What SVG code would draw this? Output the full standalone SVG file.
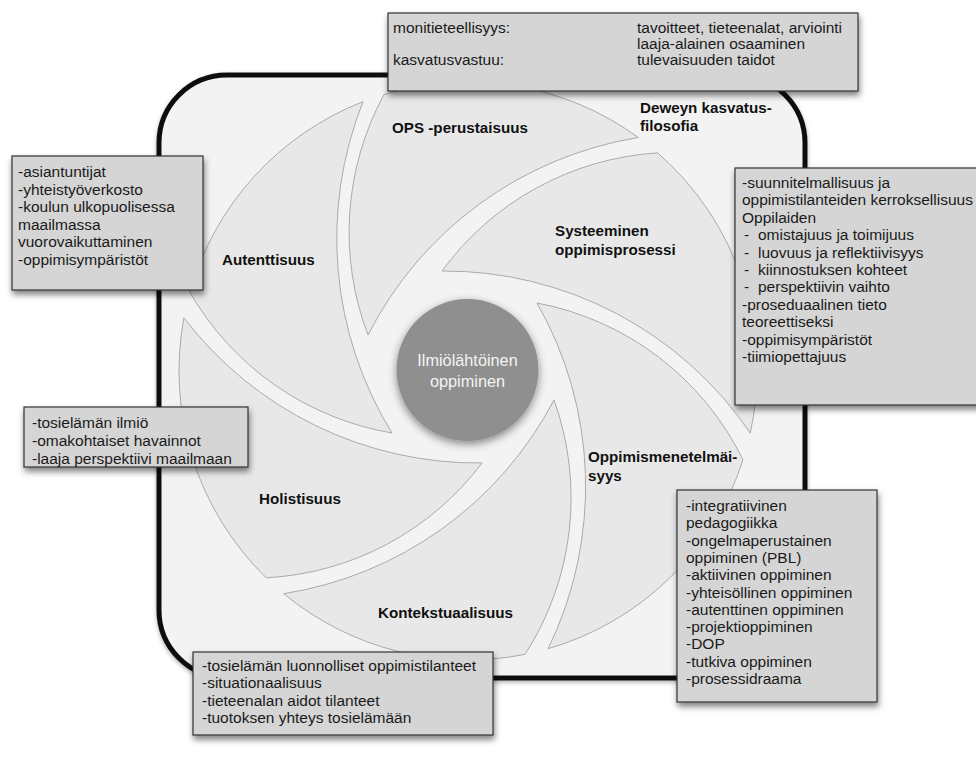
<svg xmlns="http://www.w3.org/2000/svg" width="976" height="759" viewBox="0 0 976 759">
<defs>
<filter id="sh" x="-10%" y="-10%" width="130%" height="140%"><feDropShadow dx="1" dy="4" stdDeviation="3" flood-color="#000" flood-opacity="0.5"/></filter>
<filter id="csh" x="-30%" y="-30%" width="160%" height="160%"><feDropShadow dx="0" dy="3" stdDeviation="4" flood-color="#000" flood-opacity="0.45"/></filter>
<filter id="fsh" x="-5%" y="-5%" width="110%" height="110%"><feDropShadow dx="0" dy="2" stdDeviation="2" flood-color="#000" flood-opacity="0.3"/></filter>
</defs>
<style>
.blade{fill:#e8e8e8;stroke:#aaaaaa;stroke-width:1}
.lbl{font-family:"Liberation Sans",Arial,Helvetica,sans-serif;font-weight:bold;font-size:15.2px;fill:#111}
.box{fill:#d5d5d5;stroke:#333;stroke-width:1.2;filter:url(#sh)}
.bt{font-family:"Liberation Sans",Arial,Helvetica,sans-serif;font-size:15.5px;fill:#1a1a1a}
.ct{font-family:"Liberation Sans",Arial,Helvetica,sans-serif;font-size:16.3px;fill:#f4f4f4}
</style>
<rect id="frame" x="159" y="75" width="646" height="603" rx="68" ry="68" fill="#f3f3f3" stroke="#111" stroke-width="5" filter="url(#fsh)"/>
<g id="connectors"/>
<g id="blade-ops"><path class="blade" d="M384.0,94.5 A289,289 0 0 0 368,335 A370,370 0 0 1 638.3,137.5 A289,289 0 0 0 384.0,94.5 Z"/><text class="lbl" x="392" y="133">OPS -perustaisuus</text></g>
<g id="blade-systeeminen"><path class="blade" d="M657.6,152.9 A289,289 0 0 0 442,271 A370,370 0 0 1 750.3,433.1 A289,289 0 0 0 657.6,152.9 Z"/><text class="lbl" x="555" y="236">Systeeminen</text><text class="lbl" x="555" y="255">oppimisprosessi</text></g>
<g id="blade-oppimismenetelmaisyys"><path class="blade" d="M743.0,459.8 A289,289 0 0 0 537,303 A370,370 0 0 1 548.1,648.7 A289,289 0 0 0 743.0,459.8 Z"/><text class="lbl" x="588" y="462">Oppimismenetelmäi-</text><text class="lbl" x="588" y="481">syys</text></g>
<g id="blade-kontekstuaalisuus"><path class="blade" d="M525.1,654.3 A289,289 0 0 0 554,400 A370,370 0 0 1 283.8,593.7 A289,289 0 0 0 525.1,654.3 Z"/><text class="lbl" x="378" y="618">Kontekstuaalisuus</text></g>
<g id="blade-holistisuus"><path class="blade" d="M266.2,577.8 A289,289 0 0 0 482,463 A370,370 0 0 1 183.9,317.8 A289,289 0 0 0 266.2,577.8 Z"/><text class="lbl" x="259" y="504">Holistisuus</text></g>
<g id="blade-autenttisuus"><path class="blade" d="M189.9,292.3 A289,289 0 0 0 392,433 A370,370 0 0 1 363.0,101.7 A289,289 0 0 0 189.9,292.3 Z"/><text class="lbl" x="222" y="265">Autenttisuus</text></g>
<g id="deweyn"><text class="lbl" x="640" y="113">Deweyn kasvatus-</text><text class="lbl" x="640" y="131">filosofia</text></g>
<g id="center"><circle cx="467.5" cy="370" r="71" fill="#8f8f8f" filter="url(#csh)"/><text class="ct" x="467.5" y="366" text-anchor="middle">Ilmiölähtöinen</text><text class="ct" x="467.5" y="387" text-anchor="middle">oppiminen</text></g>
<g id="box-top"><rect class="box" x="388" y="13" width="470" height="78"/>
<text class="bt" x="393" y="33">monitieteellisyys:</text><text class="bt" x="637" y="33">tavoitteet, tieteenalat, arviointi</text>
<text class="bt" x="637" y="49">laaja-alainen osaaminen</text>
<text class="bt" x="393" y="65">kasvatusvastuu:</text><text class="bt" x="637" y="65">tulevaisuuden taidot</text></g>
<g id="box-autenttisuus"><rect class="box" x="12" y="156" width="191" height="134"/>
<text class="bt" x="18" y="177">-asiantuntijat</text><text class="bt" x="18" y="194.5">-yhteistyöverkosto</text><text class="bt" x="18" y="212">-koulun ulkopuolisessa</text><text class="bt" x="18" y="229.5">maailmassa</text><text class="bt" x="18" y="247">vuorovaikuttaminen</text><text class="bt" x="18" y="264.5">-oppimisympäristöt</text></g>
<g id="box-holistisuus"><rect class="box" x="24" y="407" width="224" height="60"/>
<text class="bt" x="32" y="428">-tosielämän ilmiö</text><text class="bt" x="32" y="446">-omakohtaiset havainnot</text><text class="bt" x="32" y="464">-laaja perspektiivi maailmaan</text></g>
<g id="box-systeeminen"><rect class="box" x="735" y="168" width="255" height="237"/>
<text class="bt" x="742" y="188">-suunnitelmallisuus ja</text><text class="bt" x="742" y="205.4">oppimistilanteiden kerroksellisuus</text><text class="bt" x="742" y="222.8">Oppilaiden</text>
<text class="bt" x="744" y="240.2">-</text><text class="bt" x="758" y="240.2">omistajuus ja toimijuus</text>
<text class="bt" x="744" y="257.6">-</text><text class="bt" x="758" y="257.6">luovuus ja reflektiivisyys</text>
<text class="bt" x="744" y="275">-</text><text class="bt" x="758" y="275">kiinnostuksen kohteet</text>
<text class="bt" x="744" y="292.4">-</text><text class="bt" x="758" y="292.4">perspektiivin vaihto</text>
<text class="bt" x="742" y="309.8">-proseduaalinen tieto</text><text class="bt" x="742" y="327.2">teoreettiseksi</text><text class="bt" x="742" y="344.6">-oppimisympäristöt</text><text class="bt" x="742" y="362">-tiimiopettajuus</text></g>
<g id="box-oppimismenetelmaisyys"><rect class="box" x="677" y="490" width="200" height="212"/>
<text class="bt" x="686" y="511">-integratiivinen</text><text class="bt" x="686" y="528.3">pedagogiikka</text><text class="bt" x="686" y="545.6">-ongelmaperustainen</text><text class="bt" x="686" y="562.9">oppiminen (PBL)</text><text class="bt" x="686" y="580.2">-aktiivinen oppiminen</text><text class="bt" x="686" y="597.5">-yhteisöllinen oppiminen</text><text class="bt" x="686" y="614.8">-autenttinen oppiminen</text><text class="bt" x="686" y="632.1">-projektioppiminen</text><text class="bt" x="686" y="649.4">-DOP</text><text class="bt" x="686" y="666.7">-tutkiva oppiminen</text><text class="bt" x="686" y="684">-prosessidraama</text></g>
<g id="box-kontekstuaalisuus"><rect class="box" x="193" y="652" width="300" height="83"/>
<text class="bt" x="202" y="671">-tosielämän luonnolliset oppimistilanteet</text><text class="bt" x="202" y="688.4">-situationaalisuus</text><text class="bt" x="202" y="705.8">-tieteenalan aidot tilanteet</text><text class="bt" x="202" y="723.2">-tuotoksen yhteys tosielämään</text></g>
</svg>
